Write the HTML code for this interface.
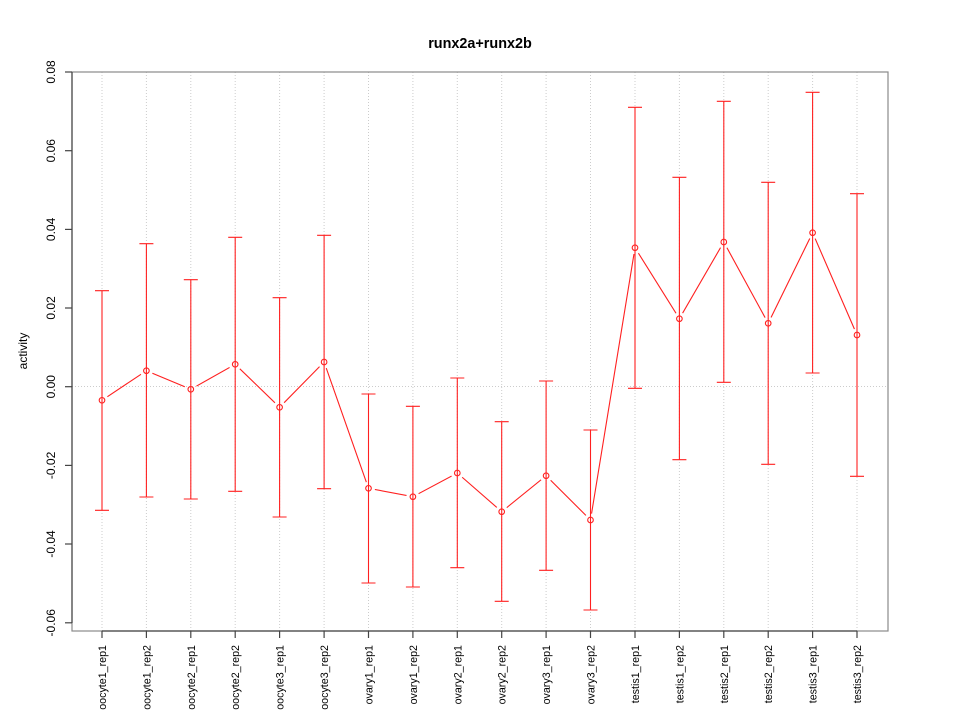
<!DOCTYPE html>
<html><head><meta charset="utf-8"><style>
html,body{margin:0;padding:0;background:#fff;}
svg{display:block;}
text{font-family:"Liberation Sans",Arial,sans-serif;fill:#000;}
</style></head><body>
<svg width="960" height="720" viewBox="0 0 960 720" xmlns="http://www.w3.org/2000/svg">
<defs>
<mask id="m" maskUnits="userSpaceOnUse" x="0" y="0" width="960" height="720">
<rect x="0" y="0" width="960" height="720" fill="#fff"/>
<g fill="#000">
<circle cx="102" cy="400.3" r="6.5"/><circle cx="146.4" cy="370.7" r="6.5"/><circle cx="190.8" cy="389.3" r="6.5"/>
<circle cx="235.2" cy="364.3" r="6.5"/><circle cx="279.6" cy="407.3" r="6.5"/><circle cx="324.1" cy="362" r="6.5"/>
<circle cx="368.5" cy="488.3" r="6.5"/><circle cx="412.9" cy="496.7" r="6.5"/><circle cx="457.3" cy="473" r="6.5"/>
<circle cx="501.7" cy="511.7" r="6.5"/><circle cx="546.1" cy="475.7" r="6.5"/><circle cx="590.5" cy="520" r="6.5"/>
<circle cx="635" cy="247.7" r="6.5"/><circle cx="679.4" cy="318.7" r="6.5"/><circle cx="723.8" cy="242" r="6.5"/>
<circle cx="768.2" cy="323.3" r="6.5"/><circle cx="812.6" cy="232.7" r="6.5"/><circle cx="857" cy="335" r="6.5"/>
</g>
</mask>
</defs>

<!-- grid -->
<g stroke="#cccccc" stroke-width="1" stroke-dasharray="1,2" fill="none">
<line x1="102" y1="72" x2="102" y2="631"/><line x1="146.4" y1="72" x2="146.4" y2="631"/><line x1="190.8" y1="72" x2="190.8" y2="631"/>
<line x1="235.2" y1="72" x2="235.2" y2="631"/><line x1="279.6" y1="72" x2="279.6" y2="631"/><line x1="324.1" y1="72" x2="324.1" y2="631"/>
<line x1="368.5" y1="72" x2="368.5" y2="631"/><line x1="412.9" y1="72" x2="412.9" y2="631"/><line x1="457.3" y1="72" x2="457.3" y2="631"/>
<line x1="501.7" y1="72" x2="501.7" y2="631"/><line x1="546.1" y1="72" x2="546.1" y2="631"/><line x1="590.5" y1="72" x2="590.5" y2="631"/>
<line x1="635" y1="72" x2="635" y2="631"/><line x1="679.4" y1="72" x2="679.4" y2="631"/><line x1="723.8" y1="72" x2="723.8" y2="631"/>
<line x1="768.2" y1="72" x2="768.2" y2="631"/><line x1="812.6" y1="72" x2="812.6" y2="631"/><line x1="857" y1="72" x2="857" y2="631"/>
<line x1="72" y1="386.5" x2="888" y2="386.5"/>
</g>

<!-- box -->
<rect x="72" y="72" width="816" height="559" fill="none" stroke="#8a8a8a" stroke-width="1.2"/>
<!-- axes -->
<g stroke="#444" stroke-width="1.2">
<line x1="72" y1="72" x2="72" y2="623"/>
<line x1="102" y1="631" x2="857" y2="631"/>
<line x1="65" y1="72" x2="72" y2="72"/><line x1="65" y1="150.7" x2="72" y2="150.7"/><line x1="65" y1="229.4" x2="72" y2="229.4"/>
<line x1="65" y1="308" x2="72" y2="308"/><line x1="65" y1="386.7" x2="72" y2="386.7"/><line x1="65" y1="465.4" x2="72" y2="465.4"/>
<line x1="65" y1="544" x2="72" y2="544"/><line x1="65" y1="622.8" x2="72" y2="622.8"/>
<line x1="102" y1="631" x2="102" y2="638"/><line x1="146.4" y1="631" x2="146.4" y2="638"/><line x1="190.8" y1="631" x2="190.8" y2="638"/>
<line x1="235.2" y1="631" x2="235.2" y2="638"/><line x1="279.6" y1="631" x2="279.6" y2="638"/><line x1="324.1" y1="631" x2="324.1" y2="638"/>
<line x1="368.5" y1="631" x2="368.5" y2="638"/><line x1="412.9" y1="631" x2="412.9" y2="638"/><line x1="457.3" y1="631" x2="457.3" y2="638"/>
<line x1="501.7" y1="631" x2="501.7" y2="638"/><line x1="546.1" y1="631" x2="546.1" y2="638"/><line x1="590.5" y1="631" x2="590.5" y2="638"/>
<line x1="635" y1="631" x2="635" y2="638"/><line x1="679.4" y1="631" x2="679.4" y2="638"/><line x1="723.8" y1="631" x2="723.8" y2="638"/>
<line x1="768.2" y1="631" x2="768.2" y2="638"/><line x1="812.6" y1="631" x2="812.6" y2="638"/><line x1="857" y1="631" x2="857" y2="638"/>
</g>

<!-- y tick labels -->
<g font-size="12" text-anchor="middle">
<text transform="translate(55,72) rotate(-90)">0.08</text>
<text transform="translate(55,150.7) rotate(-90)">0.06</text>
<text transform="translate(55,229.4) rotate(-90)">0.04</text>
<text transform="translate(55,308) rotate(-90)">0.02</text>
<text transform="translate(55,386.7) rotate(-90)">0.00</text>
<text transform="translate(55,465.4) rotate(-90)">-0.02</text>
<text transform="translate(55,544) rotate(-90)">-0.04</text>
<text transform="translate(55,622.8) rotate(-90)">-0.06</text>
</g>
<text transform="translate(27,351) rotate(-90)" font-size="12" text-anchor="middle">activity</text>
<text x="480" y="48" font-size="14.4" font-weight="bold" text-anchor="middle">runx2a+runx2b</text>

<!-- x labels -->
<g font-size="10.7" text-anchor="end">
<text transform="translate(106,645) rotate(-90)">oocyte1_rep1</text>
<text transform="translate(150.4,645) rotate(-90)">oocyte1_rep2</text>
<text transform="translate(194.8,645) rotate(-90)">oocyte2_rep1</text>
<text transform="translate(239.2,645) rotate(-90)">oocyte2_rep2</text>
<text transform="translate(283.6,645) rotate(-90)">oocyte3_rep1</text>
<text transform="translate(328.1,645) rotate(-90)">oocyte3_rep2</text>
<text transform="translate(372.5,645) rotate(-90)">ovary1_rep1</text>
<text transform="translate(416.9,645) rotate(-90)">ovary1_rep2</text>
<text transform="translate(461.3,645) rotate(-90)">ovary2_rep1</text>
<text transform="translate(505.7,645) rotate(-90)">ovary2_rep2</text>
<text transform="translate(550.1,645) rotate(-90)">ovary3_rep1</text>
<text transform="translate(594.5,645) rotate(-90)">ovary3_rep2</text>
<text transform="translate(639,645) rotate(-90)">testis1_rep1</text>
<text transform="translate(683.4,645) rotate(-90)">testis1_rep2</text>
<text transform="translate(727.8,645) rotate(-90)">testis2_rep1</text>
<text transform="translate(772.2,645) rotate(-90)">testis2_rep2</text>
<text transform="translate(816.6,645) rotate(-90)">testis3_rep1</text>
<text transform="translate(861,645) rotate(-90)">testis3_rep2</text>
</g>

<!-- error bars -->
<g stroke="#ff2020" stroke-width="1.1" fill="none">
<path d="M102 290.7V510.3M95 290.7H109M95 510.3H109"/>
<path d="M146.4 243.7V497M139.4 243.7H153.4M139.4 497H153.4"/>
<path d="M190.8 279.7V499M183.8 279.7H197.8M183.8 499H197.8"/>
<path d="M235.2 237.3V491.3M228.2 237.3H242.2M228.2 491.3H242.2"/>
<path d="M279.6 297.7V517M272.6 297.7H286.6M272.6 517H286.6"/>
<path d="M324.1 235.3V488.7M317.1 235.3H331.1M317.1 488.7H331.1"/>
<path d="M368.5 394V583M361.5 394H375.5M361.5 583H375.5"/>
<path d="M412.9 406.3V587M405.9 406.3H419.9M405.9 587H419.9"/>
<path d="M457.3 378V567.7M450.3 378H464.3M450.3 567.7H464.3"/>
<path d="M501.7 421.7V601.3M494.7 421.7H508.7M494.7 601.3H508.7"/>
<path d="M546.1 381V570.3M539.1 381H553.1M539.1 570.3H553.1"/>
<path d="M590.5 430V610M583.5 430H597.5M583.5 610H597.5"/>
<path d="M635 107.3V388.3M628 107.3H642M628 388.3H642"/>
<path d="M679.4 177.3V459.7M672.4 177.3H686.4M672.4 459.7H686.4"/>
<path d="M723.8 101.3V382.3M716.8 101.3H730.8M716.8 382.3H730.8"/>
<path d="M768.2 182.3V464.3M761.2 182.3H775.2M761.2 464.3H775.2"/>
<path d="M812.6 92.3V373M805.6 92.3H819.6M805.6 373H819.6"/>
<path d="M857 193.7V476.3M850 193.7H864M850 476.3H864"/>
</g>

<!-- connecting line with gaps -->
<polyline mask="url(#m)" fill="none" stroke="#ff2020" stroke-width="1.1"
points="102,400.3 146.4,370.7 190.8,389.3 235.2,364.3 279.6,407.3 324.1,362 368.5,488.3 412.9,496.7 457.3,473 501.7,511.7 546.1,475.7 590.5,520 635,247.7 679.4,318.7 723.8,242 768.2,323.3 812.6,232.7 857,335"/>

<!-- points -->
<g fill="none" stroke="#ff2020" stroke-width="1.1">
<circle cx="102" cy="400.3" r="2.8"/><circle cx="146.4" cy="370.7" r="2.8"/><circle cx="190.8" cy="389.3" r="2.8"/>
<circle cx="235.2" cy="364.3" r="2.8"/><circle cx="279.6" cy="407.3" r="2.8"/><circle cx="324.1" cy="362" r="2.8"/>
<circle cx="368.5" cy="488.3" r="2.8"/><circle cx="412.9" cy="496.7" r="2.8"/><circle cx="457.3" cy="473" r="2.8"/>
<circle cx="501.7" cy="511.7" r="2.8"/><circle cx="546.1" cy="475.7" r="2.8"/><circle cx="590.5" cy="520" r="2.8"/>
<circle cx="635" cy="247.7" r="2.8"/><circle cx="679.4" cy="318.7" r="2.8"/><circle cx="723.8" cy="242" r="2.8"/>
<circle cx="768.2" cy="323.3" r="2.8"/><circle cx="812.6" cy="232.7" r="2.8"/><circle cx="857" cy="335" r="2.8"/>
</g>
</svg>
</body></html>
